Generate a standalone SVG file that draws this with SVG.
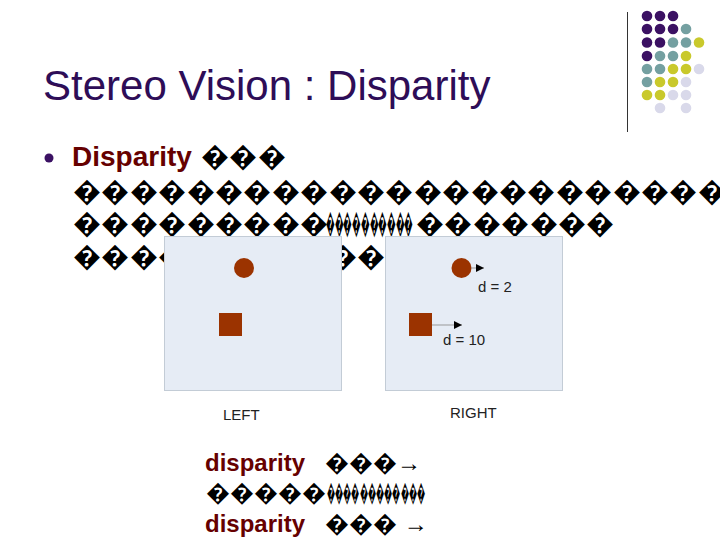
<svg xmlns="http://www.w3.org/2000/svg" width="720" height="540" viewBox="0 0 720 540">
<style>
.t{font-family:"Liberation Sans",Arial,sans-serif}
.title{font-size:42px;fill:#2e0d57}
.body{font-size:28px;fill:#000}
.red{fill:#660000;font-weight:bold}
.small{font-size:15px;fill:#222}
.bot{font-size:24px;fill:#000}
.pu{fill:#3b1163}.te{fill:#74a0a1}.ye{fill:#c9c92c}.la{fill:#d9d9ea}
.panel{fill:#e6ecf5;stroke:#c3ccd6;stroke-width:1}
.obj{fill:#9b3300}
</style>
<defs>
<marker id="ah" viewBox="0 0 10 10" refX="10" refY="5" markerWidth="8" markerHeight="8" markerUnits="userSpaceOnUse" orient="auto">
<path d="M0,0 L10,5 L0,10 z" fill="#000"/>
</marker>
</defs>
<rect width="720" height="540" fill="#fff"/>
<g id="decoration">
<line x1="627.5" y1="12" x2="627.5" y2="132" stroke="#333" stroke-width="1"/>
<g>
<circle class="pu" cx="647" cy="16" r="5.3"/><circle class="pu" cx="660" cy="16" r="5.3"/><circle class="pu" cx="673" cy="16" r="5.3"/>
<circle class="pu" cx="647" cy="29" r="5.3"/><circle class="pu" cx="660" cy="29" r="5.3"/><circle class="pu" cx="673" cy="29" r="5.3"/><circle class="te" cx="686" cy="29" r="5.3"/>
<circle class="pu" cx="647" cy="42.5" r="5.3"/><circle class="pu" cx="660" cy="42.5" r="5.3"/><circle class="te" cx="673" cy="42.5" r="5.3"/><circle class="te" cx="686" cy="42.5" r="5.3"/><circle class="ye" cx="699" cy="42.5" r="5.3"/>
<circle class="pu" cx="647" cy="56" r="5.3"/><circle class="te" cx="660" cy="56" r="5.3"/><circle class="te" cx="673" cy="56" r="5.3"/><circle class="ye" cx="686" cy="56" r="5.3"/>
<circle class="te" cx="647" cy="69" r="5.3"/><circle class="te" cx="660" cy="69" r="5.3"/><circle class="ye" cx="673" cy="69" r="5.3"/><circle class="ye" cx="686" cy="69" r="5.3"/><circle class="la" cx="699" cy="69" r="5.3"/>
<circle class="te" cx="647" cy="82" r="5.3"/><circle class="ye" cx="660" cy="82" r="5.3"/><circle class="ye" cx="673" cy="82" r="5.3"/><circle class="la" cx="686" cy="82" r="5.3"/>
<circle class="ye" cx="647" cy="95" r="5.3"/><circle class="ye" cx="660" cy="95" r="5.3"/><circle class="la" cx="673" cy="95" r="5.3"/><circle class="la" cx="686" cy="95" r="5.3"/>
<circle class="la" cx="660" cy="108" r="5.3"/><circle class="la" cx="686" cy="108" r="5.3"/>
</g>
</g>
<g id="title"><text class="t title" x="43" y="100">Stereo Vision : Disparity</text></g>
<g id="bullet">
<circle cx="49" cy="158" r="4.5" fill="#3b1163"/>
<text class="t body" x="72" y="166"><tspan class="red">Disparity</tspan> <tspan x="201" letter-spacing="0.4">���</tspan></text>
<text class="t body" x="73" y="201" letter-spacing="0.4">������������������������</text>
<text class="t body" x="73" y="233"><tspan letter-spacing="0.4">���������</tspan><tspan x="326" textLength="87" lengthAdjust="spacingAndGlyphs">����������</tspan><tspan x="416" letter-spacing="0.4">�������</tspan></text>
<text class="t body" x="73" y="266" letter-spacing="0.4">�������������</text>
</g>
<g id="left-image">
<rect class="panel" x="164.5" y="236.5" width="177" height="154"/>
<circle class="obj" cx="244" cy="268" r="10"/>
<rect class="obj" x="219" y="313" width="23" height="23"/>
</g>
<g id="right-image">
<rect class="panel" x="385.5" y="236.5" width="177" height="154"/>
<circle class="obj" cx="461.5" cy="268" r="10"/>
<rect class="obj" x="409" y="313" width="23" height="23"/>
<text class="t small" x="478" y="292">d = 2</text>
<text class="t small" x="443" y="345">d = 10</text>
</g>
<g id="connectors">
<line x1="471" y1="268" x2="484" y2="268" stroke="#999" stroke-width="1" marker-end="url(#ah)"/>
<line x1="432" y1="325" x2="462" y2="325" stroke="#999" stroke-width="1" marker-end="url(#ah)"/>
</g>
<g id="labels">
<text class="t small" x="223" y="420">LEFT</text>
<text class="t small" x="450" y="418">RIGHT</text>
</g>
<g id="bottom-text">
<text class="t bot" x="205" y="471"><tspan class="red">disparity</tspan> <tspan x="325">���→</tspan></text>
<text class="t bot" x="206" y="501"><tspan>�����</tspan><tspan x="327" textLength="98" lengthAdjust="spacingAndGlyphs">������������</tspan></text>
<text class="t bot" x="205" y="532"><tspan class="red">disparity</tspan> <tspan x="325">��� →</tspan></text>
</g>
</svg>
